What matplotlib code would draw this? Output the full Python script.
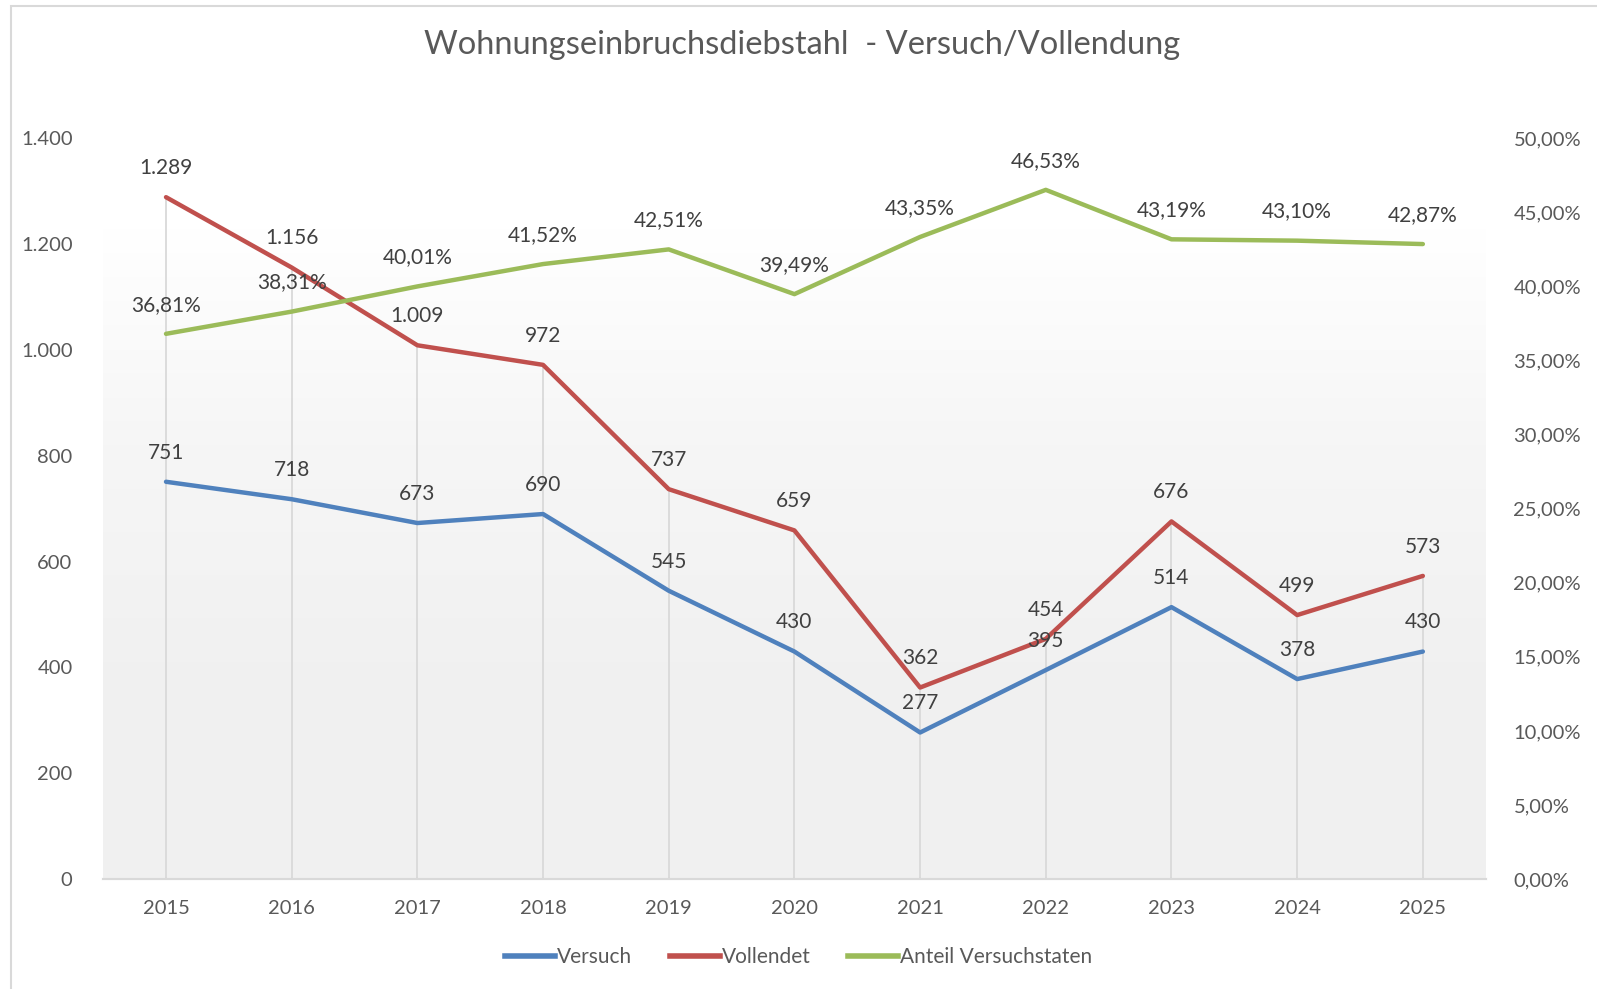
import matplotlib.pyplot as plt
import numpy as np
from matplotlib.colors import LinearSegmentedColormap
from matplotlib.lines import Line2D
from matplotlib.patches import Rectangle
from matplotlib.ticker import FuncFormatter, MultipleLocator

plt.rcParams["font.family"] = ["Lato", "DejaVu Sans"]

years = ["2015", "2016", "2017", "2018", "2019", "2020", "2021", "2022", "2023", "2024", "2025"]
versuch = [751, 718, 673, 690, 545, 430, 277, 395, 514, 378, 430]
vollendet = [1289, 1156, 1009, 972, 737, 659, 362, 454, 676, 499, 573]
anteil = [36.81, 38.31, 40.01, 41.52, 42.51, 39.49, 43.35, 46.53, 43.19, 43.10, 42.87]

c_blue = "#4F81BD"
c_red = "#C0504D"
c_green = "#9BBB59"
c_text = "#595959"
c_label = "#404040"
c_grid = "#D9D9D9"


def de_int(v):
    return f"{int(round(v)):,}".replace(",", ".")


def de_pct(v):
    return f"{v:.2f}%".replace(".", ",")


fig = plt.figure(figsize=(15.97, 9.89), dpi=100)
fig.patches.append(Rectangle((0.007, -0.01), 1.2, 1.004, transform=fig.transFigure,
                             fill=False, edgecolor=c_grid, linewidth=1.5))

ax = fig.add_axes([0.0646, 0.1112, 0.8657, 0.7488])
ax2 = ax.twinx()
x = np.arange(len(years))

# Hintergrund-Verlauf (oben weiss, unten hellgrau)
cmap = LinearSegmentedColormap.from_list("bg", ["#FFFFFF", "#F6F6F6", "#F1F1F1", "#F0F0F0"])
grad = np.linspace(0, 1, 256).reshape(-1, 1)
ax.imshow(grad, extent=[-0.5, len(years) - 0.5, 0, 1230], origin="upper",
          aspect="auto", cmap=cmap, zorder=0)

# Lotlinien
tops = np.maximum(versuch, vollendet)
ax.vlines(x, 0, tops, color=c_grid, linewidth=1.3, zorder=1)

ax.plot(x, versuch, color=c_blue, linewidth=3.2, solid_capstyle="round", zorder=3)
ax.plot(x, vollendet, color=c_red, linewidth=3.2, solid_capstyle="round", zorder=3)
ax2.plot(x, anteil, color=c_green, linewidth=3.2, solid_capstyle="round", zorder=3)

for xi, v in zip(x, versuch):
    ax.annotate(de_int(v), (xi, v), xytext=(0, 21), textcoords="offset points",
                ha="center", va="center", fontsize=15, color=c_label, zorder=5)
for xi, v in zip(x, vollendet):
    ax.annotate(de_int(v), (xi, v), xytext=(0, 21), textcoords="offset points",
                ha="center", va="center", fontsize=15, color=c_label, zorder=5)
for xi, v in zip(x, anteil):
    ax2.annotate(de_pct(v), (xi, v), xytext=(0, 21), textcoords="offset points",
                 ha="center", va="center", fontsize=15, color=c_label, zorder=5)

ax.set_xlim(-0.5, len(years) - 0.5)
ax.set_ylim(0, 1400)
ax2.set_ylim(0, 50)
ax.yaxis.set_major_locator(MultipleLocator(200))
ax2.yaxis.set_major_locator(MultipleLocator(5))
ax.yaxis.set_major_formatter(FuncFormatter(lambda v, p: de_int(v)))
ax2.yaxis.set_major_formatter(FuncFormatter(lambda v, p: de_pct(v)))

ax.set_xticks(x)
ax.set_xticklabels(years)
ax.tick_params(axis="x", length=0, pad=15, labelsize=14.5, labelcolor=c_text)
ax.tick_params(axis="y", length=0, pad=22, labelsize=14.5, labelcolor=c_text)
ax2.tick_params(axis="y", length=0, pad=20, labelsize=14.5, labelcolor=c_text)
for lbl in ax2.get_yticklabels():
    lbl.set_horizontalalignment("left")

for a in (ax, ax2):
    for s in ("top", "left", "right"):
        a.spines[s].set_visible(False)
    a.spines["bottom"].set_color(c_grid)
    a.spines["bottom"].set_linewidth(1.5)

fig.text(0.502, 0.9545, "Wohnungseinbruchsdiebstahl  - Versuch/Vollendung",
         ha="center", va="center", fontsize=23.5, color=c_text)

handles = [
    Line2D([0], [0], color=c_blue, lw=4, label="Versuch"),
    Line2D([0], [0], color=c_red, lw=4, label="Vollendet"),
    Line2D([0], [0], color=c_green, lw=4, label="Anteil Versuchstaten"),
]
fig.legend(handles=handles, loc="center", bbox_to_anchor=(0.5, 0.032), ncol=3,
           frameon=False, fontsize=15, labelcolor=c_text, handlelength=2.4,
           handletextpad=0.1, columnspacing=1.8)

plt.savefig("out.png", dpi=100)
plt.close()
